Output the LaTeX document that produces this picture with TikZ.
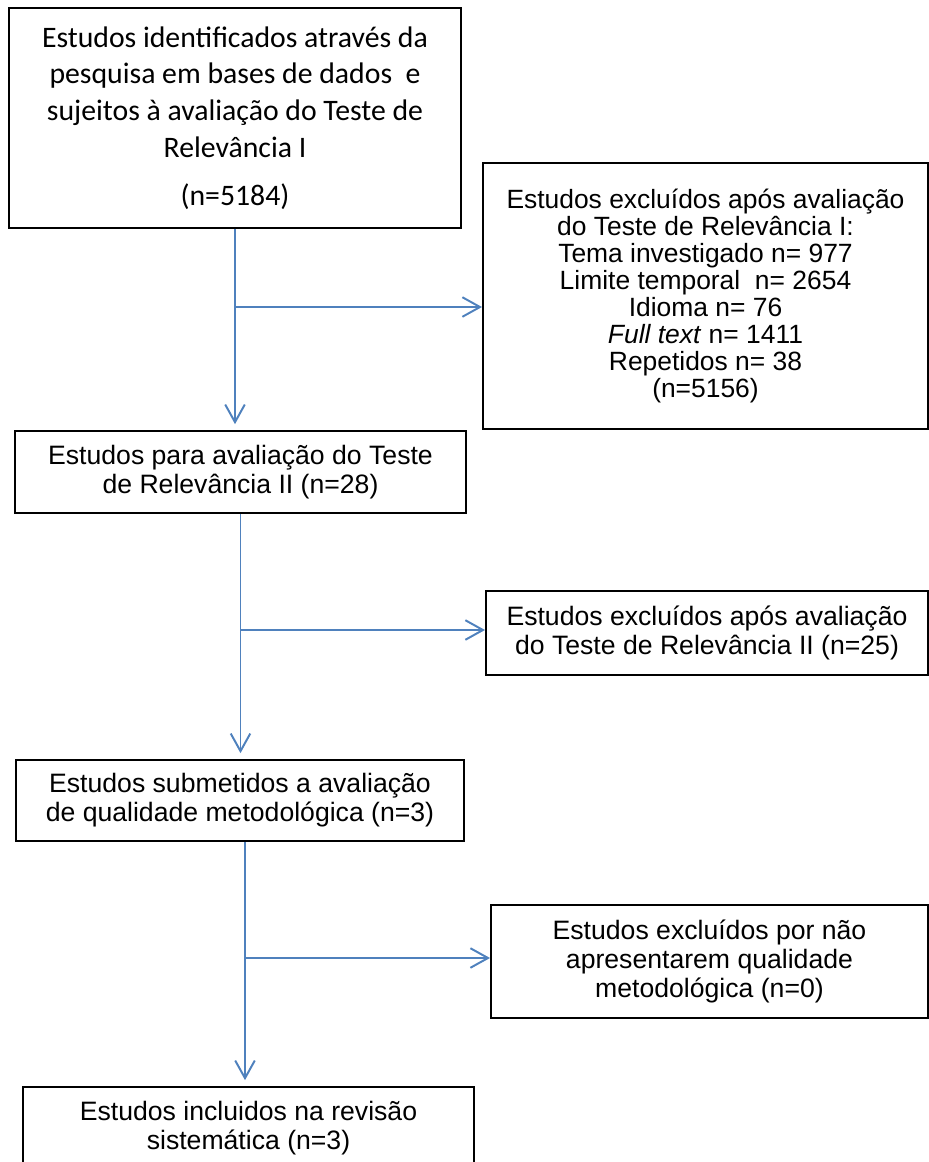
\documentclass[tikz,border=0pt]{standalone}
\usepackage{fontspec}
\setmainfont{Liberation Sans}
\newfontfamily\calibrifont{Carlito}
\usepackage{tikz}
\usetikzlibrary{arrows.meta, positioning}
\definecolor{flowblue}{RGB}{79,129,189}

\begin{document}
\begin{tikzpicture}[
  x=0.511pt, y=-0.511pt,
  box/.style={
    rectangle, draw=black, line width=1pt, inner sep=0pt,
    align=center, font=\fontsize{13.6}{14.8}\selectfont
  },
  arrow/.style={-{Straight Barb[length=9pt,width=10pt]}, line width=1pt, draw=flowblue, shorten >=2pt}
]
\useasboundingbox (0,0) rectangle (929,1162);

% ---- Main column on the left ----
\node[box, minimum width=231pt, minimum height=112.4pt,
      font=\calibrifont\fontsize{15.2}{18.8}\selectfont] (ident) at (235,118)
  {Estudos identificados através da\\pesquisa em bases de dados~ e\\sujeitos à avaliação do Teste de\\Relevância I\\[5.7pt](n=5184)};
\node[box, minimum width=230.5pt, minimum height=41.9pt] (relII) at (240.5,472)
  {Estudos para avaliação do Teste\\de Relevância II (n=28)};
\node[box, minimum width=228.9pt, minimum height=41.4pt] (quali) at (240,800.5)
  {Estudos submetidos a avaliação\\de qualidade metodológica (n=3)};
\node[box, minimum width=230.5pt, minimum height=41.9pt] (incl) at (248.5,1128)
  {Estudos incluidos na revisão\\sistemática (n=3)};

% ---- Excluded studies on the right ----
\node[box, minimum width=227.4pt, minimum height=135.9pt,
      font=\fontsize{13.5}{13.8}\selectfont] (excI) at (705.5,296)
  {Estudos excluídos após avaliação\\do Teste de Relevância I:\\Tema investigado n= 977\\Limite temporal~ n= 2654\\Idioma n= 76\\\textit{Full text} n= 1411\\Repetidos n= 38\\(n=5156)};
\node[box, minimum width=225.9pt, minimum height=42.9pt] (excII) at (707,633)
  {Estudos excluídos após avaliação\\do Teste de Relevância II (n=25)};
\node[box, minimum width=223.3pt, minimum height=57.7pt] (excIII) at (709.5,961.5)
  {Estudos excluídos por não\\apresentarem qualidade\\metodológica (n=0)};

% ---- Branch points ----
\coordinate (j1) at (235,307);
\coordinate (j2) at (240.5,630);
\coordinate (j3) at (245,958);

% ---- Connectors ----
\draw[arrow, shorten >=3pt] (ident.south) -- (ident.south |- relII.north);
\draw[arrow, shorten >=0pt] (j1) -- (j1 -| excI.west);

\draw[arrow, shorten >=3pt] (relII.south) -- (relII.south |- quali.north);
\draw[arrow, shorten >=0pt] (j2) -- (j2 -| excII.west);

\draw[arrow, shorten >=3pt] (quali.south -| j3) -- (j3 |- incl.north);
\draw[arrow, shorten >=0pt] (j3) -- (j3 -| excIII.west);

\end{tikzpicture}
\end{document}
